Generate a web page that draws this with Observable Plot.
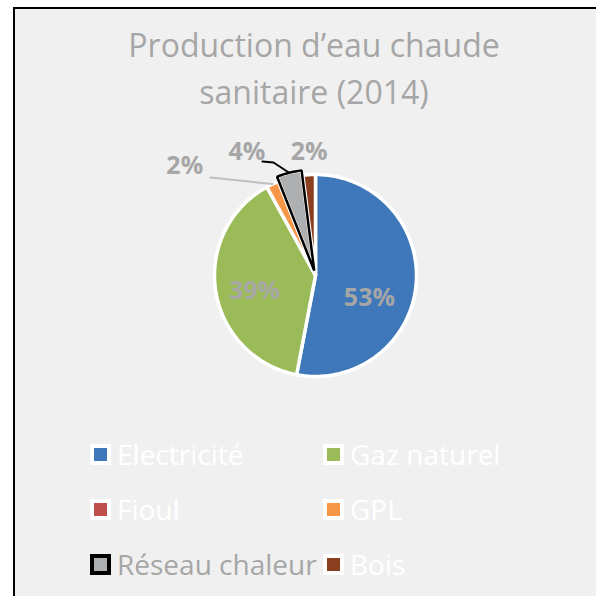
<!DOCTYPE html>
<html><head><meta charset="utf-8">
<script src="https://cdn.jsdelivr.net/npm/d3@7"></script>
<script src="https://cdn.jsdelivr.net/npm/@observablehq/plot@0.6"></script>
<style>
body{margin:0;background:#fff;}
#wrap{position:relative;width:596px;height:596px;overflow:hidden;background:#fff;font-family:"Open Sans",sans-serif;}
#panel{position:absolute;left:13px;top:7px;width:620px;height:620px;background:#F0F0F0;border-left:2px solid #000;border-top:2px solid #000;}
#title{position:absolute;left:14px;top:21px;width:600px;text-align:center;color:#A6A6A6;font-size:32px;line-height:47px;}
#chart{position:absolute;left:0;top:0;}
.leg{position:absolute;height:22px;display:flex;align-items:center;white-space:nowrap;}
.sw{width:13px;height:13px;border:4.5px solid #fff;margin-right:6px;flex:none;}
.lt{font-size:28px;line-height:22px;}
</style></head>
<body><div id="wrap"><div id="panel"></div><div id="title">Production d’eau chaude<br>sanitaire (2014)</div><div id="chart"></div><div id="legend"></div></div>
<script>
// ---- data ----
const categories = ["Electricité", "Gaz naturel", "Fioul", "GPL", "Réseau chaleur", "Bois"];
const values = [53, 39, 0, 2, 4, 2];
const pctLabels = ["53%", "39%", "", "2%", "4%", "2%"];

// ---- styles / layout ----
const colors = ["#3F78BA", "#9BBB59", "#C0504D", "#F79646", "#AEAFB1", "#8B3F1E"];
const legendTextColors = ["#FFFFFF", "#FFFFFF", "#FFFFFF", "#FFFFFF", "#A6A6A6", "#FFFFFF"];
const explodeCat = "Réseau chaleur", explodeBy = 0.05;
const labelPolar = {"Electricité": [113, 0.58], "Gaz naturel": [256, 0.62], "GPL": [310, 1.69], "Réseau chaleur": [331, 1.40], "Bois": [357, 1.22]};
const leaderStarts = {"GPL": [[-1.04, 0.97]], "Réseau chaleur": [[-0.525, 1.129], [-0.416, 1.119]]};
const leaderColors = {"GPL": "#BFBFBF", "Réseau chaleur": "#000000"};

const W = 596, H = 596, cx = 315, cy = 275, R = 101;
const rad = d => d * Math.PI / 180;

const rows = categories.map((c, i) => ({cat: c, value: values[i], label: pctLabels[i]}));
const arcs = d3.pie().sort(null).value(d => d.value)(rows);

const polys = [], labelRows = [], leaders = [];
arcs.forEach(a => {
  if (a.data.value <= 0) return;
  const c = a.data.cat;
  const mid = (a.startAngle + a.endAngle) / 2;
  const ex = c === explodeCat ? explodeBy : 0;
  const ox = ex * Math.sin(mid), oy = ex * Math.cos(mid);
  polys.push({cat: c, x: ox, y: oy});
  const n = Math.max(2, Math.ceil((a.endAngle - a.startAngle) / rad(1)));
  for (let k = 0; k <= n; k++) {
    const t = a.startAngle + (a.endAngle - a.startAngle) * k / n;
    polys.push({cat: c, x: ox + Math.sin(t), y: oy + Math.cos(t)});
  }
  const lp = labelPolar[c];
  if (lp && a.data.label) labelRows.push({cat: c, label: a.data.label, x: lp[1] * Math.sin(rad(lp[0])), y: lp[1] * Math.cos(rad(lp[0]))});
  if (leaderStarts[c]) {
    leaderStarts[c].forEach(p => leaders.push({cat: c, x: p[0], y: p[1]}));
    leaders.push({cat: c, x: (1 + ex) * Math.sin(mid), y: (1 + ex) * Math.cos(mid)});
  }
});

const leaderMarks = Object.keys(leaderColors).map(c =>
  Plot.line(leaders.filter(d => d.cat === c), {x: "x", y: "y", stroke: leaderColors[c], strokeWidth: 2}));

const plot = Plot.plot({
  width: W, height: H,
  margin: 0,
  style: {background: "transparent", overflow: "visible"},
  x: {domain: [-cx / R, (W - cx) / R], range: [0, W], axis: null},
  y: {domain: [-(H - cy) / R, cy / R], range: [H, 0], axis: null},
  color: {domain: categories, range: colors},
  marks: [
    Plot.line(polys, {x: "x", y: "y", z: "cat", fill: "cat", stroke: "white", strokeWidth: 3.5, strokeLinejoin: "round", curve: "linear-closed"}),
    Plot.line(polys.filter(d => d.cat === explodeCat), {x: "x", y: "y", fill: "none", stroke: "black", strokeWidth: 2.5, strokeLinejoin: "miter", curve: "linear-closed"}),
    ...leaderMarks,
    Plot.text(labelRows, {x: "x", y: "y", text: "label", fill: "#A6A6A6", fontSize: 25, fontWeight: 700, fontFamily: "Open Sans"})
  ]
});
document.getElementById("chart").appendChild(plot);

// legend
const legend = document.getElementById("legend");
const colX = [90, 323], rowY = [443, 498, 553];
categories.forEach((c, i) => {
  const el = document.createElement("div");
  el.className = "leg";
  el.style.left = colX[i % 2] + "px";
  el.style.top = rowY[Math.floor(i / 2)] + "px";
  const sw = document.createElement("div");
  sw.className = "sw";
  sw.style.background = colors[i];
  if (c === explodeCat) sw.style.borderColor = "#000";
  const t = document.createElement("span");
  t.className = "lt";
  t.style.color = legendTextColors[i];
  t.textContent = c;
  el.appendChild(sw); el.appendChild(t);
  legend.appendChild(el);
});
</script></body></html>
